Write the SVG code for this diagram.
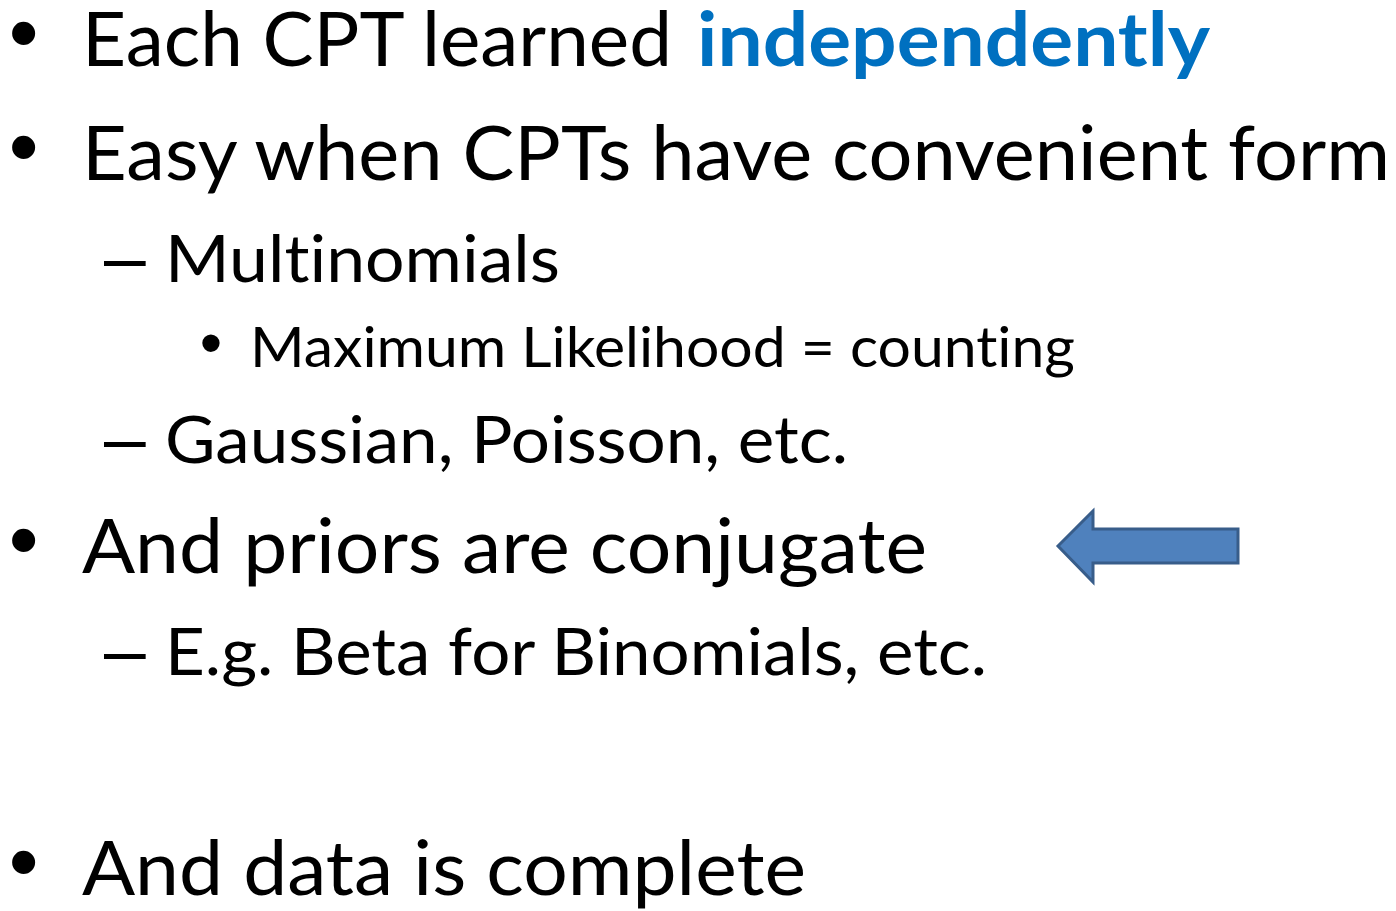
<svg xmlns="http://www.w3.org/2000/svg" width="1396" height="911" viewBox="0 0 1396 911">
  <style>
    text { font-family: Lato, "Open Sans", "Liberation Sans", sans-serif; fill: #000; font-variant-ligatures: none; }
    .l1 { font-size: 75px; }
    .l2 { font-size: 66px; }
    .l3 { font-size: 56px; }
    .em { font-weight: bold; fill: #0070C0; }
    .b1 { font-family: "Liberation Sans", Arial, sans-serif; font-size: 85px; }
    .b3 { font-family: "Liberation Sans", Arial, sans-serif; font-size: 64px; }
    .dash { font-family: "Liberation Sans", Arial, sans-serif; font-size: 75px; }
    .arrow { fill: #4F81BD; stroke: #385D8A; stroke-width: 3; stroke-linejoin: miter; }
  </style>
  <rect width="1396" height="911" fill="#fff"/>

  <g id="item-each-cpt">
    <text class="b1" x="8.7" y="62">•</text>
    <text class="l1" x="82" y="66" textLength="590" lengthAdjust="spacingAndGlyphs">Each CPT learned</text>
    <text class="l1 em" x="697" y="66" textLength="513" lengthAdjust="spacingAndGlyphs">independently</text>
  </g>

  <g id="item-easy">
    <text class="b1" x="8.7" y="176">•</text>
    <text class="l1" x="82" y="180" textLength="1308" lengthAdjust="spacingAndGlyphs">Easy when CPTs have convenient form</text>
  </g>

  <g id="item-multinomials">
    <text class="dash" x="104" y="282">–</text>
    <text class="l2" x="165" y="282" textLength="395" lengthAdjust="spacingAndGlyphs">Multinomials</text>
  </g>

  <g id="item-ml">
    <text class="b3" x="199.7" y="364.7">•</text>
    <text class="l3" x="250" y="367" textLength="825" lengthAdjust="spacingAndGlyphs">Maximum Likelihood = counting</text>
  </g>

  <g id="item-gaussian">
    <text class="dash" x="104" y="463">–</text>
    <text class="l2" x="165" y="463" textLength="683" lengthAdjust="spacingAndGlyphs">Gaussian, Poisson, etc.</text>
  </g>

  <g id="item-priors">
    <text class="b1" x="8.7" y="569">•</text>
    <text class="l1" x="82" y="573" textLength="845" lengthAdjust="spacingAndGlyphs">And priors are conjugate</text>
  </g>

  <g id="item-beta">
    <text class="dash" x="104" y="675">–</text>
    <text class="l2" x="165" y="675" textLength="822" lengthAdjust="spacingAndGlyphs">E.g. Beta for Binomials, etc.</text>
  </g>

  <g id="item-data">
    <text class="b1" x="8.7" y="891">•</text>
    <text class="l1" x="82" y="895" textLength="724" lengthAdjust="spacingAndGlyphs">And data is complete</text>
  </g>

  <g id="connectors">
    <path class="arrow" d="M1058 546 L1093 511 L1093 529 L1238 529 L1238 563 L1093 563 L1093 582 Z"/>
  </g>
</svg>
